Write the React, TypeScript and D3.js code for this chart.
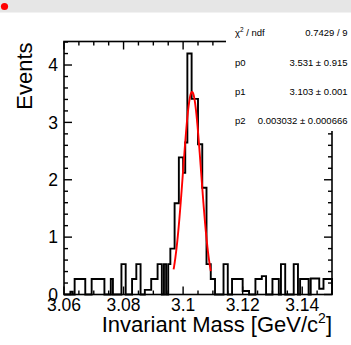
import React from 'react';
import * as d3 from 'd3';

// ---- data ----
const xMin = 3.06;
const xMax = 3.15;
// 126 bins between 3.06 and 3.15
const binValues = [
  0, 0, 0, 0.05, 0, 0.27, 0.27, 0.27, 0.27, 0.27,
  0, 0, 0, 0.27, 0.27, 0.27, 0.27, 0.27, 0.27, 0,
  0, 0, 0.27, 0, 0, 0, 0, 0.53, 0.53, 0,
  0, 0, 0.27, 0.27, 0.53, 0.53, 0, 0, 0.08, 0.08,
  0.08, 0.27, 0.27, 0.27, 0.53, 0.53, 0, 0.53, 0, 0.53,
  0.8, 0.8, 1.59, 1.59, 2.39, 2.39, 2.12, 2.65, 4.2, 4.2,
  3.41, 3.41, 3.41, 2.62, 2.62, 1.86, 1.86, 0.53, 0.53, 0.27,
  0.27, 0, 0, 0, 0, 0.53, 0.53, 0, 0, 0.27,
  0.27, 0.27, 0.27, 0.27, 0.06, 0.06, 0.06, 0, 0, 0,
  0.27, 0.27, 0.27, 0.32, 0.32, 0, 0, 0, 0.27, 0.27,
  0.27, 0, 0.53, 0.53, 0, 0, 0, 0, 0.53, 0.53,
  0, 0.27, 0.27, 0.27, 0.27, 0, 0.28, 0.28, 0.28, 0.28,
  0.1, 0.1, 0.27, 0.27, 0.27, 0.27,
];
const xTicks = [3.06, 3.08, 3.1, 3.12, 3.14];
const xTickLabels = ['3.06', '3.08', '3.1', '3.12', '3.14'];
const yTicks = [0, 1, 2, 3, 4];
const yTickLabels = ['0', '1', '2', '3', '4'];
const fitParams = [3.531, 3.103, 0.003032];
const fitRange = [3.0968, 3.1093];
const statsLabels = ['p0', 'p1', 'p2'];
const statsValues = ['3.531 \u00b1 0.915', '3.103 \u00b1 0.001', '0.003032 \u00b1 0.000666'];
const chi2Value = '0.7429 / 9';

const W = 351;
const H = 345;
const L = 64;
const R = 332;
const T = 41.5;
const B = 294.5;
const FONT = '"Liberation Sans", Arial, Helvetica, sans-serif';

export default function App() {
  const yMax = 1.05 * (d3.max(binValues) as number);
  const x = d3.scaleLinear().domain([xMin, xMax]).range([L, R]);
  const y = d3.scaleLinear().domain([0, yMax]).range([B, T]);
  const bw = (xMax - xMin) / binValues.length;

  // histogram contour
  let hp = `M${x(xMin)},${y(0)}`;
  binValues.forEach((v, i) => {
    hp += `V${y(v)}H${x(xMin + (i + 1) * bw)}`;
  });
  hp += `V${y(0)}`;

  // fit curve
  const gaus = (t: number) =>
    fitParams[0] * Math.exp(-0.5 * Math.pow((t - fitParams[1]) / fitParams[2], 2));
  const fitX = d3.range(0, 201).map((i) => fitRange[0] + (i / 200) * (fitRange[1] - fitRange[0]));
  const fitLine = d3
    .line<number>()
    .x((t) => x(t))
    .y((t) => y(gaus(t)))(fitX) as string;

  const xMinor = d3.range(0, 19).map((i) => xMin + i * 0.005);
  const yMinor = d3.range(0, 23).map((i) => i * 0.2).filter((v) => v <= yMax);

  const tickStroke = { stroke: '#000', strokeWidth: 1.4 };

  return (
    <svg
      width={W}
      height={H}
      style={{ position: 'absolute', left: 0, top: 0, background: '#fff' }}
      fontFamily={FONT}
    >
      <rect x={0} y={0} width={W} height={H} fill="#fff" />
      <rect x={0} y={0} width={W} height={12.5} fill="#e6e6e6" />
      <circle cx={4.5} cy={6.5} r={3.6} fill="#ff0000" />

      {/* ticks */}
      {xMinor.map((v, i) => {
        const major = xTicks.some((t) => Math.abs(t - v) < 1e-9);
        const len = major ? 8 : 4;
        return (
          <g key={'xt' + i}>
            <line x1={x(v)} x2={x(v)} y1={B} y2={B - len} {...tickStroke} />
            <line x1={x(v)} x2={x(v)} y1={T} y2={T + len} {...tickStroke} />
          </g>
        );
      })}
      {yMinor.map((v, i) => {
        const major = yTicks.some((t) => Math.abs(t - v) < 1e-9);
        const len = major ? 8 : 4;
        return (
          <g key={'yt' + i}>
            <line x1={L} x2={L + len} y1={y(v)} y2={y(v)} {...tickStroke} />
            <line x1={R} x2={R - len} y1={y(v)} y2={y(v)} {...tickStroke} />
          </g>
        );
      })}

      {/* frame */}
      <rect x={L} y={T} width={R - L} height={B - T} fill="none" stroke="#000" strokeWidth={1.6} />

      {/* histogram */}
      <path d={hp} fill="none" stroke="#000" strokeWidth={1.9} strokeLinejoin="miter" />

      {/* fit */}
      <path d={fitLine} fill="none" stroke="#ff0000" strokeWidth={1.9} />

      {/* tick labels */}
      {xTicks.map((t, i) => (
        <text key={'xl' + i} x={x(t)} y={310.5} fontSize={17.5} textAnchor="middle" fill="#000">
          {xTickLabels[i]}
        </text>
      ))}
      {yTicks.map((t, i) => (
        <text key={'yl' + i} x={58} y={y(t) + 6.3} fontSize={17.5} textAnchor="end" fill="#000">
          {yTickLabels[i]}
        </text>
      ))}

      {/* axis titles */}
      <text x={R} y={332} fontSize={22} textAnchor="end" fill="#000">
        Invariant Mass [GeV/c
        <tspan fontSize={14} dy={-9}>2</tspan>
        <tspan dy={9}>]</tspan>
      </text>
      <text
        transform={`translate(31.5,${T + 1}) rotate(-90)`}
        fontSize={22}
        textAnchor="end"
        fill="#000"
      >
        Events
      </text>

      {/* stats box */}
      <rect x={226} y={13} width={W - 226} height={118} fill="#fff" />
      <text x={235} y={36} fontSize={9.5} fill="#000">
        {'\u03c7'}
        <tspan fontSize={6.5} dy={-4}>2</tspan>
        <tspan dy={4}>{' / ndf'}</tspan>
      </text>
      <text x={347.5} y={36} fontSize={9.5} textAnchor="end" fill="#000">
        {chi2Value}
      </text>
      {statsLabels.map((s, i) => (
        <g key={'st' + i}>
          <text x={235} y={65.5 + i * 29} fontSize={9.5} fill="#000">
            {s}
          </text>
          <text x={347.5} y={65.5 + i * 29} fontSize={9.5} textAnchor="end" fill="#000">
            {statsValues[i]}
          </text>
        </g>
      ))}
    </svg>
  );
}
